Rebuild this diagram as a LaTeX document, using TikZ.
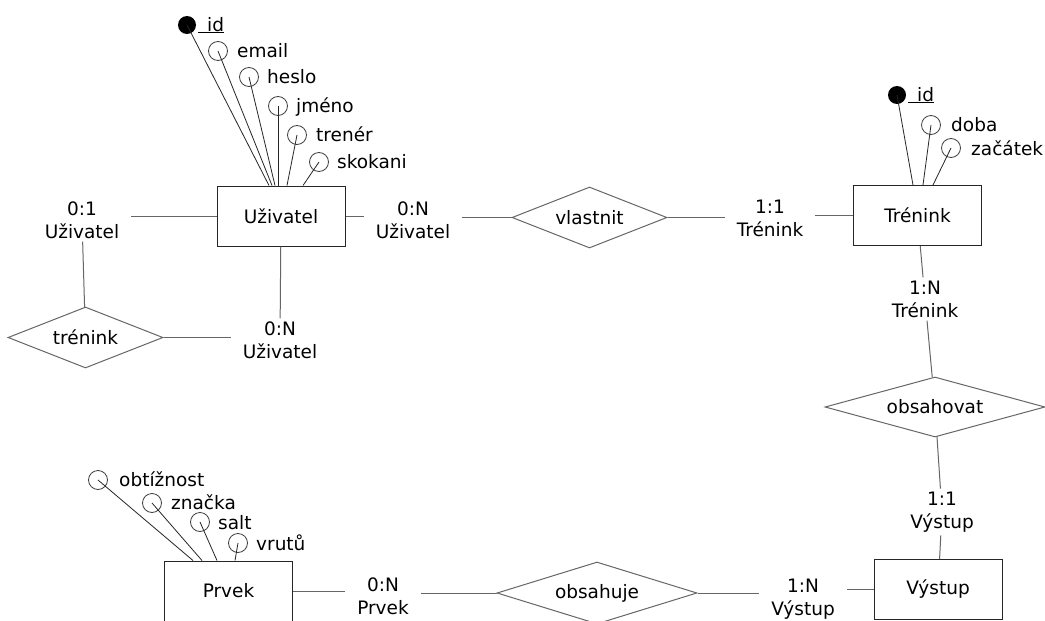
\documentclass[tikz,border=0pt]{standalone}
\usepackage{fontspec}
\setmainfont{DejaVu Sans}
\usetikzlibrary{shapes.geometric}
\begin{document}
\begin{tikzpicture}[x=1pt,y=-1pt,
  every node/.style={font=\fontsize{18.5}{23}\selectfont},
  ent/.style={draw=black!85, line width=1pt, minimum width=128pt, minimum height=60pt, inner sep=0pt, fill=white},
  rel/.style={diamond, draw=black!60, line width=1pt, inner sep=0pt, aspect=2.5},
  card/.style={align=center, inner xsep=12pt, inner ysep=3pt},
  conn/.style={draw=black!60, line width=1pt},
  attrc/.style={circle, draw=black!75, line width=0.8pt, minimum size=19pt, inner sep=0pt},
  keyc/.style={circle, fill=black, minimum size=18pt, inner sep=0pt},
  attrline/.style={draw=black!85, line width=0.8pt},
  attrtext/.style={anchor=base west, inner sep=0pt}
]
\fill[white] (0,0) rectangle (1045,621);
\useasboundingbox (0,0) rectangle (1045,621);

% entities
\node[ent] (uz) at (281,216) {Uživatel};
\node[ent] (tr) at (917.5,215.5) {Trénink};
\node[ent] (vy) at (938,589.5) {Výstup};
\node[ent] (pr) at (228.5,591) {Prvek};

% relationships
\node[rel, minimum width=155pt, minimum height=61pt] (vl) at (589.5,217.5) {vlastnit};
\node[rel, minimum width=155pt, minimum height=61pt] (tk) at (85.5,337.5) {trénink};
\node[rel, minimum width=220pt, minimum height=60pt] (oh) at (935,407) {obsahovat};
\node[rel, minimum width=200pt, minimum height=62pt] (oj) at (597,593) {obsahuje};

% cardinalities
\node[card] (c1) at (82,220) {0:1\\Uživatel};
\node[card] (c2) at (413,220) {0:N\\Uživatel};
\node[card] (c3) at (770,218) {1:1\\Trénink};
\node[card] (c4) at (925,299) {1:N\\Trénink};
\node[card] (c5) at (280,340) {0:N\\Uživatel};
\node[card] (c6) at (942,512) {1:1\\Výstup};
\node[card] (c7) at (383,596) {0:N\\Prvek};
\node[card] (c8) at (803,599) {1:N\\Výstup};

% connectors
\draw[conn] (uz.west) -- (uz.west -| c1.east);
\draw[conn] (c1) -- (tk);
\draw[conn] (tk.east) -- (tk.east -| c5.west);
\draw[conn] (c5) -- (uz);
\draw[conn] (uz.east) -- (uz.east -| c2.west);
\draw[conn] (c2.east |- vl.west) -- (vl.west);
\draw[conn] (vl.east) -- (vl.east -| c3.west);
\draw[conn] (c3.east |- tr.west) -- (tr.west);
\draw[conn] (tr) -- (c4);
\draw[conn] (c4) -- (oh);
\draw[conn] (oh) -- (c6);
\draw[conn] (c6) -- (vy);
\draw[conn] (vy.west) -- (vy.west -| c8.east);
\draw[conn] (c8.west |- oj.east) -- (oj.east);
\draw[conn] (oj.west) -- (oj.west -| c7.east);
\draw[conn] (c7.west |- pr.east) -- (pr.east);

% attributes of Uživatel
\node[keyc] (ua0) at (187,25) {};
\node[attrc] (ua1) at (218,51) {};
\node[attrc] (ua2) at (249,77) {};
\node[attrc] (ua3) at (278,106) {};
\node[attrc] (ua4) at (297,135) {};
\node[attrc] (ua5) at (319,162) {};
\node[attrtext] (ut0) at (198,31) {\underline{\hspace{9pt}id}};
\node[attrtext] (ut1) at (237,57) {email};
\node[attrtext] (ut2) at (267,83) {heslo};
\node[attrtext] (ut3) at (296,112) {jméno};
\node[attrtext] (ut4) at (316,141) {trenér};
\node[attrtext] (ut5) at (337,168) {skokani};
\draw[attrline] (ua0.center) -- ([xshift=-12pt]uz.north);
\draw[attrline] (ua1.center) -- ([xshift=-9pt]uz.north);
\draw[attrline] (ua2.center) -- ([xshift=-6pt]uz.north);
\draw[attrline] (ua3.center) -- ([xshift=-3pt]uz.north);
\draw[attrline] (ua4.center) -- ([xshift=6pt]uz.north);
\draw[attrline] (ua5.center) -- ([xshift=22pt]uz.north);

% attributes of Trénink
\node[keyc] (ta0) at (897,95) {};
\node[attrc] (ta1) at (931,125) {};
\node[attrc] (ta2) at (951,148) {};
\node[attrtext] (tt0) at (908,101) {\underline{\hspace{9pt}id}};
\node[attrtext] (tt1) at (951,131) {doba};
\node[attrtext] (tt2) at (971,155) {začátek};
\draw[attrline] (ta0.center) -- ([xshift=-4.5pt]tr.north);
\draw[attrline] (ta1.center) -- ([xshift=5.5pt]tr.north);
\draw[attrline] (ta2.center) -- ([xshift=15.5pt]tr.north);

% attributes of Prvek
\node[attrc] (pa1) at (98,480) {};
\node[attrc] (pa2) at (152,503) {};
\node[attrc] (pa3) at (200,522) {};
\node[attrc] (pa4) at (238,543) {};
\node[attrtext] (pt1) at (119,486) {obtížnost};
\node[attrtext] (pt2) at (171,509) {značka};
\node[attrtext] (pt3) at (218,529) {salt};
\node[attrtext] (pt4) at (256,550) {vrutů};
\draw[attrline] (pa1.center) -- ([xshift=-35.5pt]pr.north);
\draw[attrline] (pa2.center) -- ([xshift=-26.5pt]pr.north);
\draw[attrline] (pa3.center) -- ([xshift=-11.5pt]pr.north);
\draw[attrline] (pa4.center) -- ([xshift=6.5pt]pr.north);
\end{tikzpicture}
\end{document}
